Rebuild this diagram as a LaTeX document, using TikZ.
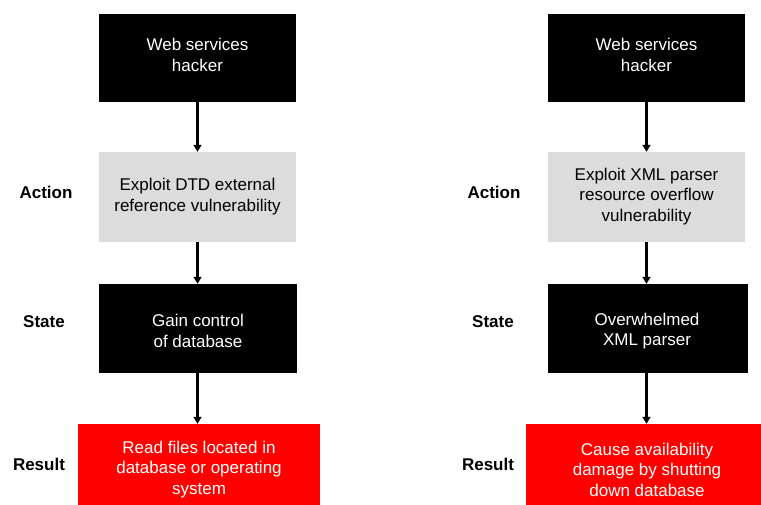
\documentclass[tikz,border=0pt]{standalone}
\usepackage{fontspec}
\setmainfont{Liberation Sans}
\usetikzlibrary{arrows.meta}
\definecolor{boxgray}{RGB}{220,220,220}
\definecolor{boxred}{RGB}{255,0,0}
\tikzset{
  box/.style={inner sep=0pt, anchor=center},
  blackbox/.style={box, fill=black, minimum width=197pt, minimum height=88pt},
  graybox/.style={box, fill=boxgray, minimum width=197pt, minimum height=90pt},
  redbox/.style={box, fill=boxred, minimum width=242pt, minimum height=86pt},
  txt/.style={inner sep=0pt, align=center, anchor=center, font=\fontsize{17}{20.5}\selectfont},
  wtxt/.style={txt, text=white},
  btxt/.style={txt, text=black},
  lab/.style={inner sep=0pt, font=\bfseries\fontsize{17}{20}\selectfont, anchor=center},
  arr/.style={line width=2.2pt, -{Triangle[length=7pt,width=8pt]}}
}
\begin{document}
\begin{tikzpicture}[x=1pt,y=-1pt]
\useasboundingbox[fill=white] (0,0) rectangle (761,504);
% left column
\node[blackbox] (h1) at (197.5,58) {};
\node[wtxt] (h1t) at (197.5,55) {Web services\\hacker};
\node[graybox] (a1) at (197.5,197) {};
\node[btxt] (a1t) at (197.5,196.5) {Exploit DTD external\\reference vulnerability};
\node[blackbox, minimum width=198pt, minimum height=89pt] (s1) at (198,328.5) {};
\node[wtxt] (s1t) at (198,331) {Gain control\\of database};
\node[redbox] (r1) at (199,467) {};
\node[wtxt] (r1t) at (199,469.5) {Read files located in\\database or operating\\system};
\draw[arr] (h1.south) -- (a1.north);
\draw[arr] (a1.south) -- (s1.north -| a1.south);
\draw[arr] (s1.south -| a1.south) -- (r1.north -| a1.south);
\node[lab] (la1) at (46,192) {Action};
\node[lab] (ls1) at (44,322) {State};
\node[lab] (lr1) at (39,464) {Result};
% right column
\node[blackbox] (h2) at (646.5,58) {};
\node[wtxt] (h2t) at (646.5,55) {Web services\\hacker};
\node[graybox] (a2) at (646.5,197) {};
\node[btxt] (a2t) at (646.5,196.5) {Exploit XML parser\\resource overflow\\vulnerability};
\node[blackbox, minimum width=200pt, minimum height=89pt] (s2) at (648,328.5) {};
\node[wtxt] (s2t) at (647,331) {Overwhelmed\\XML parser};
\node[redbox] (r2) at (647,467) {};
\node[wtxt] (r2t) at (647,469.5) {Cause availability\\damage by shutting\\down database};
\draw[arr] (h2.south) -- (a2.north);
\draw[arr] (a2.south) -- (s2.north -| a2.south);
\draw[arr] (s2.south -| a2.south) -- (r2.north -| a2.south);
\node[lab] (la2) at (494,192) {Action};
\node[lab] (ls2) at (493,322) {State};
\node[lab] (lr2) at (488,464) {Result};
\end{tikzpicture}
\end{document}
